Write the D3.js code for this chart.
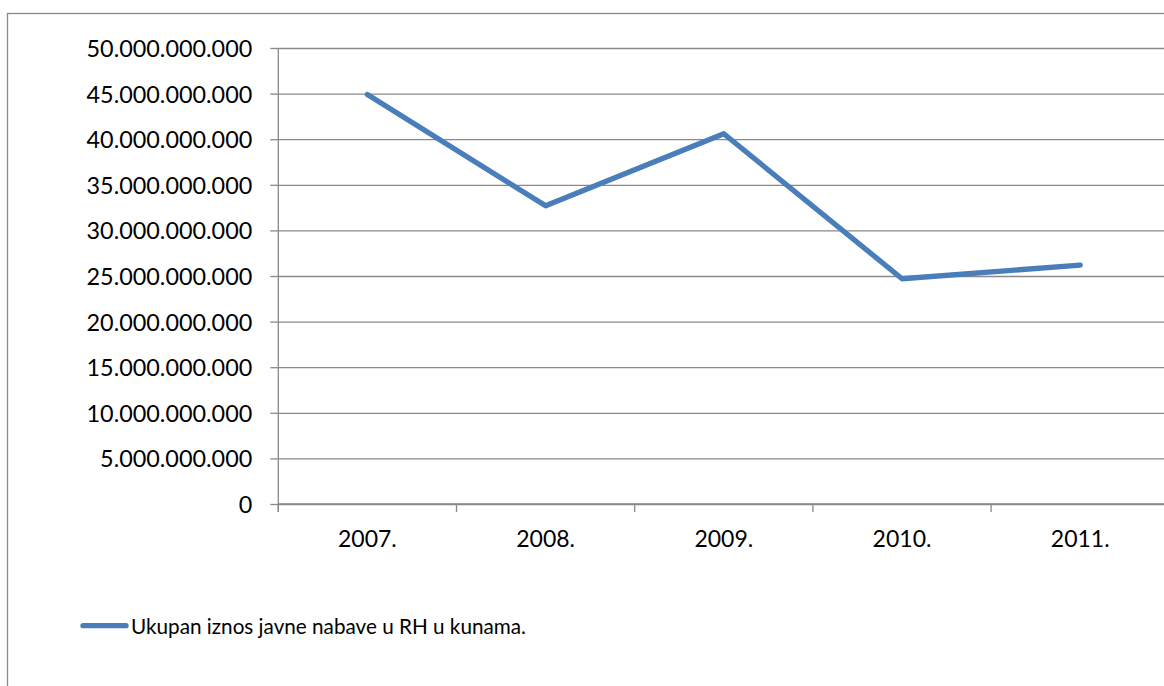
<!DOCTYPE html>
<html>
<head>
<meta charset="utf-8">
<script src="https://cdn.jsdelivr.net/npm/d3@7"></script>
<style>
  html, body { margin: 0; padding: 0; background: #fff; }
  svg { display: block; }
  text { font-family: Lato, "Open Sans", sans-serif; fill: #000; }
</style>
</head>
<body>
<svg id="chart" width="1164" height="686"></svg>
<script>
// ---- data ----
const years = ["2007.", "2008.", "2009.", "2010.", "2011."];
const values = [44900000000, 32700000000, 40600000000, 24700000000, 26200000000];
const yTicks = [0, 5e9, 10e9, 15e9, 20e9, 25e9, 30e9, 35e9, 40e9, 45e9, 50e9];
const seriesName = "Ukupan iznos javne nabave u RH u kunama.";

// ---- layout ----
const svg = d3.select("#chart");
const plotLeft = 278.3, plotRight = 1169.3, plotTop = 48, plotBottom = 504;
const lineColor = "#4a7ebb";
const gridColor = "#898989";

// outer border (extends past the window on right/bottom, like the reference)
svg.append("rect")
  .attr("x", 7.5).attr("y", 13.5)
  .attr("width", 1180).attr("height", 700)
  .attr("fill", "#fff").attr("stroke", gridColor).attr("stroke-width", 1.3);

const x = d3.scaleBand().domain(years).range([plotLeft, plotRight]).padding(0);
const y = d3.scaleLinear().domain([0, 50e9]).range([plotBottom, plotTop]);

const loc = d3.formatLocale({ decimal: ",", thousands: ".", grouping: [3], currency: ["", ""] });
const fmt = loc.format(",.0f");

// gridlines
const grid = svg.append("g").attr("transform", `translate(${plotLeft},0)`)
  .call(d3.axisRight(y).tickValues(yTicks).tickSize(plotRight - plotLeft).tickFormat(""));
grid.select(".domain").remove();
grid.selectAll("line").attr("stroke", gridColor).attr("stroke-width", 1.3);

// y axis
const yAxis = svg.append("g").attr("transform", `translate(${plotLeft},0)`)
  .call(d3.axisLeft(y).tickValues(yTicks).tickSizeInner(8).tickSizeOuter(0).tickPadding(18).tickFormat(fmt));
yAxis.select(".domain").remove();
yAxis.selectAll("line").attr("stroke", gridColor).attr("stroke-width", 1.3);
yAxis.selectAll("text").attr("font-size", 23.4).attr("dy", "0.36em")
  .style("font-family", "Lato, sans-serif").attr("fill", "#000");
svg.append("line").attr("x1", plotLeft).attr("x2", plotLeft).attr("y1", plotTop).attr("y2", plotBottom + 8)
  .attr("stroke", gridColor).attr("stroke-width", 1.3);

// x axis: labels at category centres, ticks at category boundaries
const xAxis = svg.append("g").attr("transform", `translate(0,${plotBottom})`)
  .call(d3.axisBottom(x).tickSize(0).tickPadding(0));
xAxis.select(".domain").remove();
xAxis.selectAll("text").attr("font-size", 23).attr("y", 43).attr("dy", 0)
  .style("font-family", "Lato, sans-serif").attr("fill", "#000");
svg.append("line").attr("x1", plotLeft).attr("x2", plotRight).attr("y1", plotBottom).attr("y2", plotBottom)
  .attr("stroke", gridColor).attr("stroke-width", 1.3);
const bounds = years.map(d => x(d));
svg.append("g").selectAll("line").data(bounds).join("line")
  .attr("x1", d => d).attr("x2", d => d).attr("y1", plotBottom).attr("y2", plotBottom + 8)
  .attr("stroke", gridColor).attr("stroke-width", 1.3);

// series line
const line = d3.line().x((d, i) => x(years[i]) + x.bandwidth() / 2).y(d => y(d));
svg.append("path").datum(values)
  .attr("d", line).attr("fill", "none").attr("stroke", lineColor)
  .attr("stroke-width", 5.3).attr("stroke-linecap", "round").attr("stroke-linejoin", "round");

// legend
svg.append("line").attr("x1", 83).attr("x2", 126).attr("y1", 625.7).attr("y2", 625.7)
  .attr("stroke", lineColor).attr("stroke-width", 5.3).attr("stroke-linecap", "round");
svg.append("text").attr("x", 131).attr("y", 634).attr("font-size", 20.7).text(seriesName);
</script>
</body>
</html>
